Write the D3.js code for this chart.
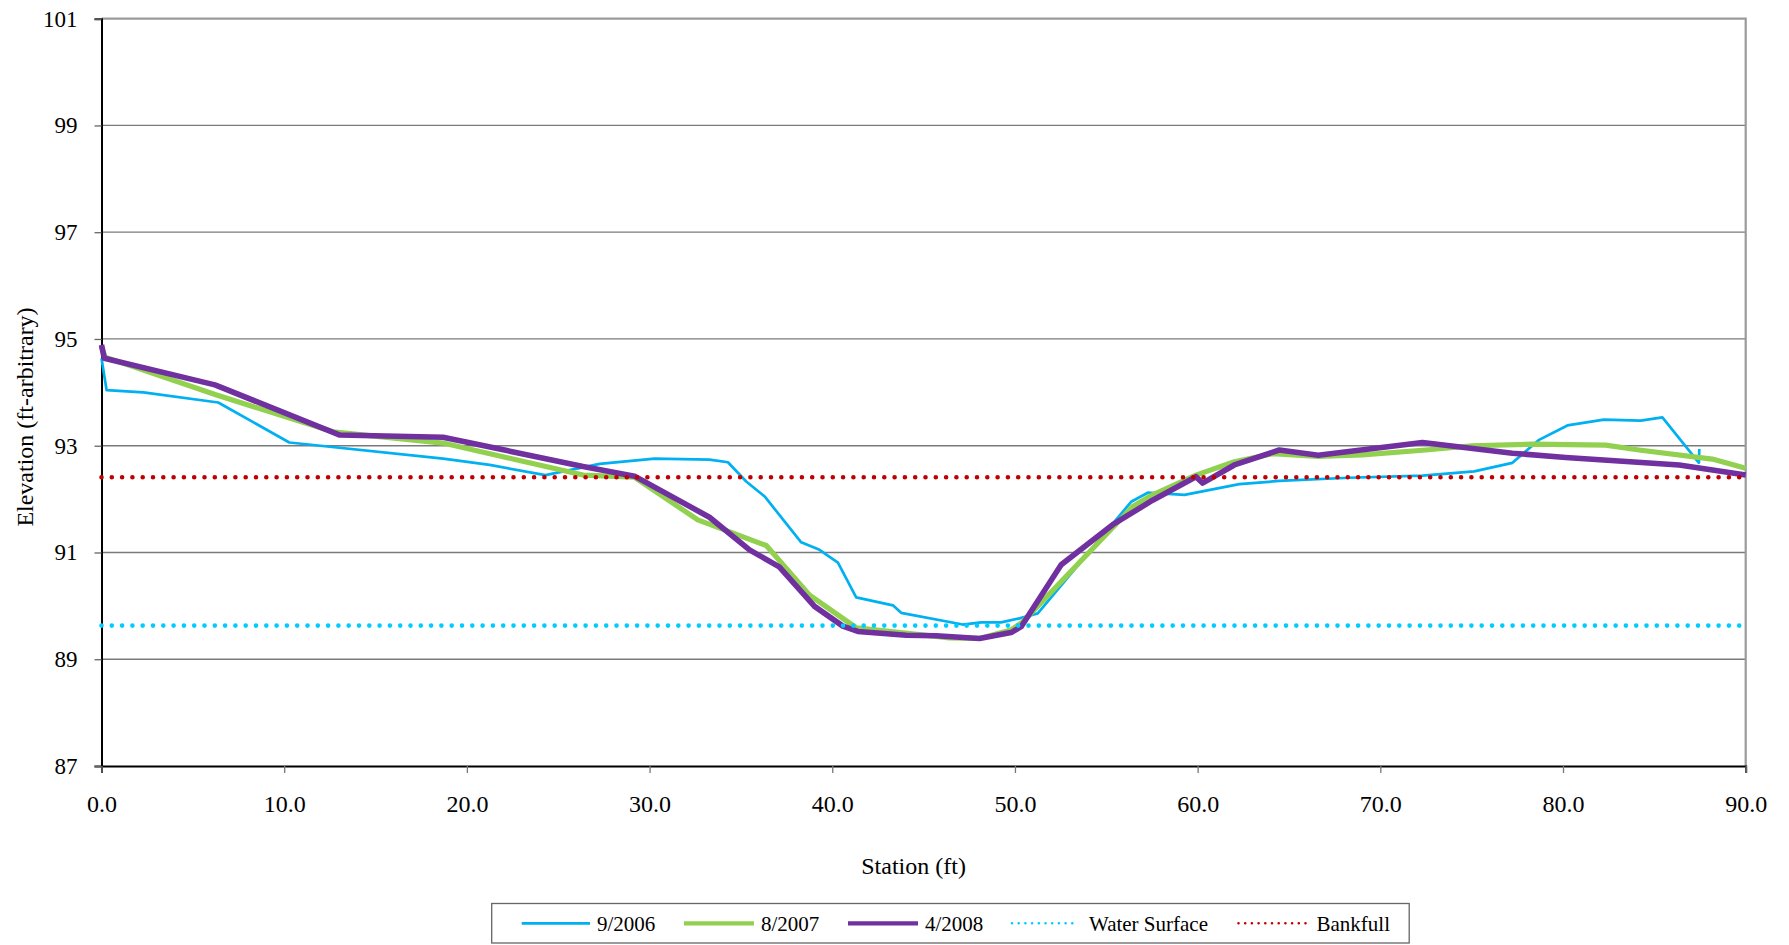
<!DOCTYPE html>
<html>
<head>
<meta charset="utf-8">
<script src="https://cdn.jsdelivr.net/npm/d3@7"></script>
<style>
  html, body { margin: 0; padding: 0; background: #ffffff; }
  svg { display: block; }
  svg text { font-family: "Liberation Serif", "Times New Roman", serif !important; fill: #000; }
</style>
</head>
<body>
<svg id="chart" width="1789" height="945" font-family="Liberation Serif, serif"></svg>
<script>
// Cross-section survey data: station (ft) and elevation (ft, arbitrary datum)
const survey2006 = [
  [0.0, 94.64], [0.28, 94.04], [2.29, 94.00], [6.39, 93.81], [10.28, 93.06],
  [18.7, 92.76], [21.25, 92.64], [24.3, 92.45], [27.27, 92.66], [30.28, 92.76],
  [33.28, 92.74], [34.29, 92.69], [35.29, 92.33], [36.3, 92.05], [38.3, 91.19],
  [39.3, 91.05], [40.31, 90.81], [41.31, 90.16], [43.32, 90.01], [43.77, 89.87],
  [47.14, 89.65], [48.15, 89.69], [49.24, 89.69], [50.3, 89.77], [51.25, 89.86],
  [56.36, 91.95], [57.27, 92.12], [59.28, 92.08], [62.28, 92.28], [64.47, 92.34],
  [68.3, 92.40], [72.31, 92.44], [75.14, 92.52], [77.23, 92.68], [78.69, 93.11],
  [80.24, 93.38], [82.24, 93.49], [84.25, 93.47], [85.44, 93.53], [87.44, 92.68],
  [87.46, 92.94]
];

const survey2007 = [
  [0.0, 94.85], [0.2, 94.66], [6.3, 93.95], [12.68, 93.26], [18.7, 93.05],
  [26.36, 92.45], [29.18, 92.41], [32.64, 91.61], [36.39, 91.13], [38.76, 90.20],
  [41.31, 89.59], [46.42, 89.40], [48.06, 89.39], [49.79, 89.55], [50.43, 89.70],
  [56.45, 91.86], [57.54, 92.08], [59.91, 92.45], [62.01, 92.70], [64.1, 92.85],
  [66.6, 92.80], [69.02, 92.83], [72.49, 92.92], [75.04, 93.00], [78.33, 93.03],
  [82.34, 93.01], [84.16, 92.92], [88.17, 92.75], [90.0, 92.58]
];

const survey2008 = [
  [0.0, 94.89], [0.15, 94.64], [6.21, 94.14], [13.05, 93.20], [18.7, 93.16],
  [26.36, 92.61], [29.18, 92.43], [33.28, 91.66], [35.47, 91.05], [37.1, 90.73],
  [39.03, 89.99], [40.58, 89.62], [41.4, 89.52], [44.05, 89.45], [45.69, 89.44],
  [48.06, 89.39], [49.79, 89.50], [50.34, 89.61], [52.53, 90.77], [55.35, 91.52],
  [57.54, 91.98], [59.91, 92.42], [60.27, 92.30], [62.01, 92.64], [64.47, 92.92],
  [66.6, 92.82], [72.31, 93.06], [77.23, 92.86], [80.15, 92.78], [86.36, 92.64],
  [90.0, 92.45]
];

const waterSurface = [[0, 89.63], [90, 89.63]];
const bankfull = [[0, 92.41], [90, 92.41]];

const xTicks = [0, 10, 20, 30, 40, 50, 60, 70, 80, 90];
const yTicks = [87, 89, 91, 93, 95, 97, 99, 101];

const seriesNames = ["9/2006", "8/2007", "4/2008", "Water Surface", "Bankfull"];

const SERIF = "Liberation Serif, Times New Roman, serif";

// Layout
const svg = d3.select("#chart");
const plot = { left: 101.5, right: 1745.7, top: 18.7, bottom: 766 };

const x = d3.scaleLinear().domain([0, 90]).range([plot.left, plot.right]);
const y = d3.scaleLinear().domain([87, 101]).range([plot.bottom, plot.top]);

svg.append("rect").attr("width", 1789).attr("height", 945).attr("fill", "#fff");

// Horizontal gridlines
svg.append("g")
  .selectAll("line")
  .data(yTicks.filter(v => v !== 87 && v !== 101))
  .join("line")
  .attr("x1", plot.left).attr("x2", plot.right)
  .attr("y1", d => y(d)).attr("y2", d => y(d))
  .attr("stroke", "#7a7a7a").attr("stroke-width", 1.3);

// Plot-area border (top and right)
svg.append("path")
  .attr("d", `M${plot.left},${y(101)}H${plot.right}V${plot.bottom}`)
  .attr("fill", "none").attr("stroke", "#9a9a9a").attr("stroke-width", 2.2);

// Y axis
const yAxis = d3.axisLeft(y).tickValues(yTicks).tickSize(7).tickPadding(17).tickFormat(d3.format("d"));
const gy = svg.append("g").attr("transform", `translate(${plot.left},0)`).call(yAxis)
  .attr("font-family", SERIF).attr("font-size", 23);
gy.select(".domain").attr("stroke", "#000").attr("stroke-width", 2);
gy.selectAll(".tick line").attr("stroke", "#666").attr("stroke-width", 1.3);
gy.selectAll("text").attr("fill", "#000").attr("font-family", SERIF).attr("font-size", 23);

// X axis
const xAxis = d3.axisBottom(x).tickValues(xTicks).tickSize(7).tickPadding(22).tickFormat(d3.format(".1f"));
const gx = svg.append("g").attr("transform", `translate(0,${plot.bottom})`).call(xAxis)
  .attr("font-family", SERIF).attr("font-size", 24);
gx.select(".domain").attr("stroke", "#000").attr("stroke-width", 2);
gx.selectAll(".tick line").attr("stroke", "#777").attr("stroke-width", 1.3);
gx.selectAll("text").attr("fill", "#000").attr("font-family", SERIF).attr("font-size", 24);

// Axis titles
svg.append("text")
  .attr("x", x(45) - 10).attr("y", 874)
  .attr("text-anchor", "middle")
  .attr("font-family", SERIF).attr("font-size", 24)
  .text("Station (ft)");

svg.append("text")
  .attr("transform", `translate(33,417) rotate(-90)`)
  .attr("text-anchor", "middle")
  .attr("font-family", SERIF).attr("font-size", 24)
  .text("Elevation (ft-arbitrary)");

// Series lines
const line = d3.line().x(d => x(d[0])).y(d => y(d[1]));

const styles = [
  { data: survey2006, color: "#00B0F0", width: 2.7, dash: null },
  { data: survey2007, color: "#92D050", width: 5.2, dash: null },
  { data: survey2008, color: "#7030A0", width: 5.6, dash: null },
  { data: waterSurface, color: "#00CCFF", width: 4.6, dash: "0 10.3" },
  { data: bankfull, color: "#C00000", width: 4.6, dash: "0 10.3" }
];

const gLines = svg.append("g");
styles.forEach(s => {
  gLines.append("path")
    .datum(s.data)
    .attr("d", line)
    .attr("fill", "none")
    .attr("stroke", s.color)
    .attr("stroke-width", s.width)
    .attr("stroke-linejoin", "round")
    .attr("stroke-linecap", s.dash ? "round" : "butt")
    .attr("stroke-dasharray", s.dash);
});

// Legend
const legend = svg.append("g");
legend.append("rect")
  .attr("x", 491.7).attr("y", 903.5).attr("width", 917.5).attr("height", 39.5)
  .attr("fill", "#fff").attr("stroke", "#666").attr("stroke-width", 1.3);

const legendItems = [
  { x0: 521.7, x1: 590, tx: 597 },
  { x0: 684, x1: 754, tx: 761 },
  { x0: 848, x1: 918, tx: 925 },
  { x0: 1012, x1: 1078.5, tx: 1089 },
  { x0: 1238.5, x1: 1307, tx: 1316.5 }
];
const legendY = 923.3;
legendItems.forEach((it, i) => {
  const s = styles[i];
  legend.append("line")
    .attr("x1", it.x0).attr("x2", it.x1)
    .attr("y1", legendY).attr("y2", legendY)
    .attr("stroke", s.color)
    .attr("stroke-width", s.dash ? 2.6 : (i === 0 ? 2.7 : 4.2))
    .attr("stroke-linecap", s.dash ? "round" : "butt")
    .attr("stroke-dasharray", s.dash ? "0 6.7" : null);
  legend.append("text")
    .attr("x", it.tx).attr("y", legendY + 7.3)
    .attr("font-family", SERIF).attr("font-size", 21)
    .text(seriesNames[i]);
});
</script>
</body>
</html>
